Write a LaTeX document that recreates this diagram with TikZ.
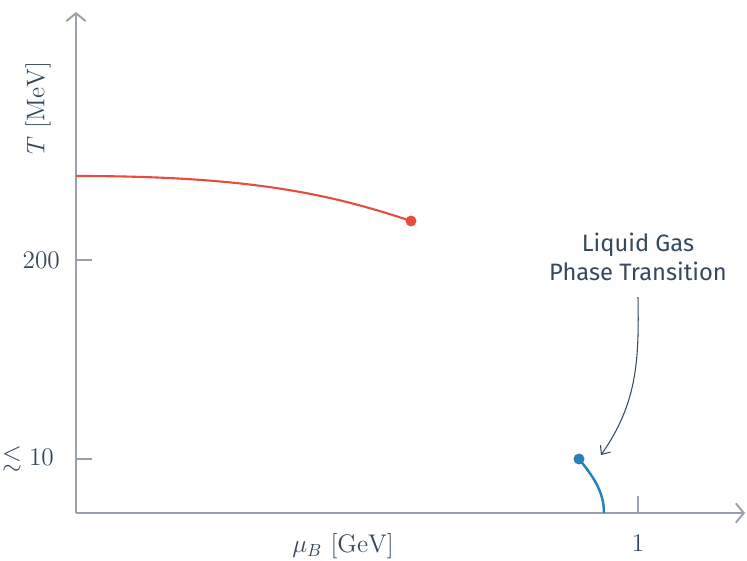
\documentclass[tikz,border=0pt]{standalone}
\usepackage{amsmath,amssymb}
\usepackage{fontspec}
\usepackage{tikz}
\usetikzlibrary{arrows.meta, positioning}
\newfontfamily\annofont{Fira Sans}
\definecolor{axisgray}{HTML}{98A1AC}
\definecolor{textslate}{HTML}{34495E}
\definecolor{qcdred}{HTML}{E74C3C}
\definecolor{lgblue}{HTML}{2980B9}

\begin{document}
\begin{tikzpicture}[
  x=0.02cm, y=0.02cm,
  axis/.style={line width=1.1pt, color=axisgray},
  axisarrow/.style={axis, -{Straight Barb[length=4.5pt, width=11pt, line width=1.1pt]}},
  ticklabel/.style={font=\fontsize{14.5}{17}\selectfont, text=textslate},
  transline/.style={line width=1.2pt},
  cpoint/.style={circle, inner sep=0pt, minimum size=0.22cm},
  anno/.style={font=\annofont\fontsize{13.5}{16.5}\selectfont, text=textslate,
    align=center},
  annoarrow/.style={-{Straight Barb[length=4pt, width=7pt]}, line width=0.6pt,
    color=textslate}
]
\useasboundingbox (0,0) rectangle (747,561);

% Axes
\coordinate (origin) at (76,48);
\coordinate (ymax) at (76,549);
\coordinate (xmax) at (745,48);
\draw[axisarrow] (origin) -- (ymax);
\draw[axisarrow] (origin) -- (xmax);

% Ticks
\coordinate (y200) at (76,301);
\coordinate (y10) at (76,102);
\coordinate (x1) at (638,48);
\draw[axis] (y200) -- ++(16,0);
\draw[axis] (y10) -- ++(16,0);
\draw[axis] (x1) -- ++(0,17);

\node[ticklabel, anchor=east] (l200) at (66,301) {$200$};
\node[ticklabel, anchor=east] (l10) at (60,102) {${\lesssim}\;10$};
\node[ticklabel] (l1) at (638,18) {$1$};
\node[ticklabel] (xlabel) at (343,15) {$\mu_B\ [\mathrm{GeV}]$};
\node[ticklabel, rotate=90] (ylabel) at (38,453) {$T\ [\mathrm{MeV}]$};

% Crossover / critical point
\coordinate (redstart) at (76,385);
\node[cpoint, fill=qcdred] (redcp) at (411,340) {};
\draw[transline, qcdred] (redstart)
      .. controls (250,385) and (330,367) .. (redcp.center);

% Liquid gas transition
\node[cpoint, fill=lgblue] (bluecp) at (579,102) {};
\coordinate (blueend) at (604,48);
\draw[transline, lgblue, line width=1.4pt] (bluecp.center)
      .. controls (592,86) and (604,70) .. (blueend);

% Annotation
\node[anno] (lgpt) at (638,304) {Liquid Gas\\Phase Transition};
\coordinate (lgtip) at (601,106);
\draw[annoarrow] (lgpt.south) ++(0,-10) coordinate (lgstart)
      (lgstart) to[out=-89, in=55] (lgtip);

\end{tikzpicture}
\end{document}
